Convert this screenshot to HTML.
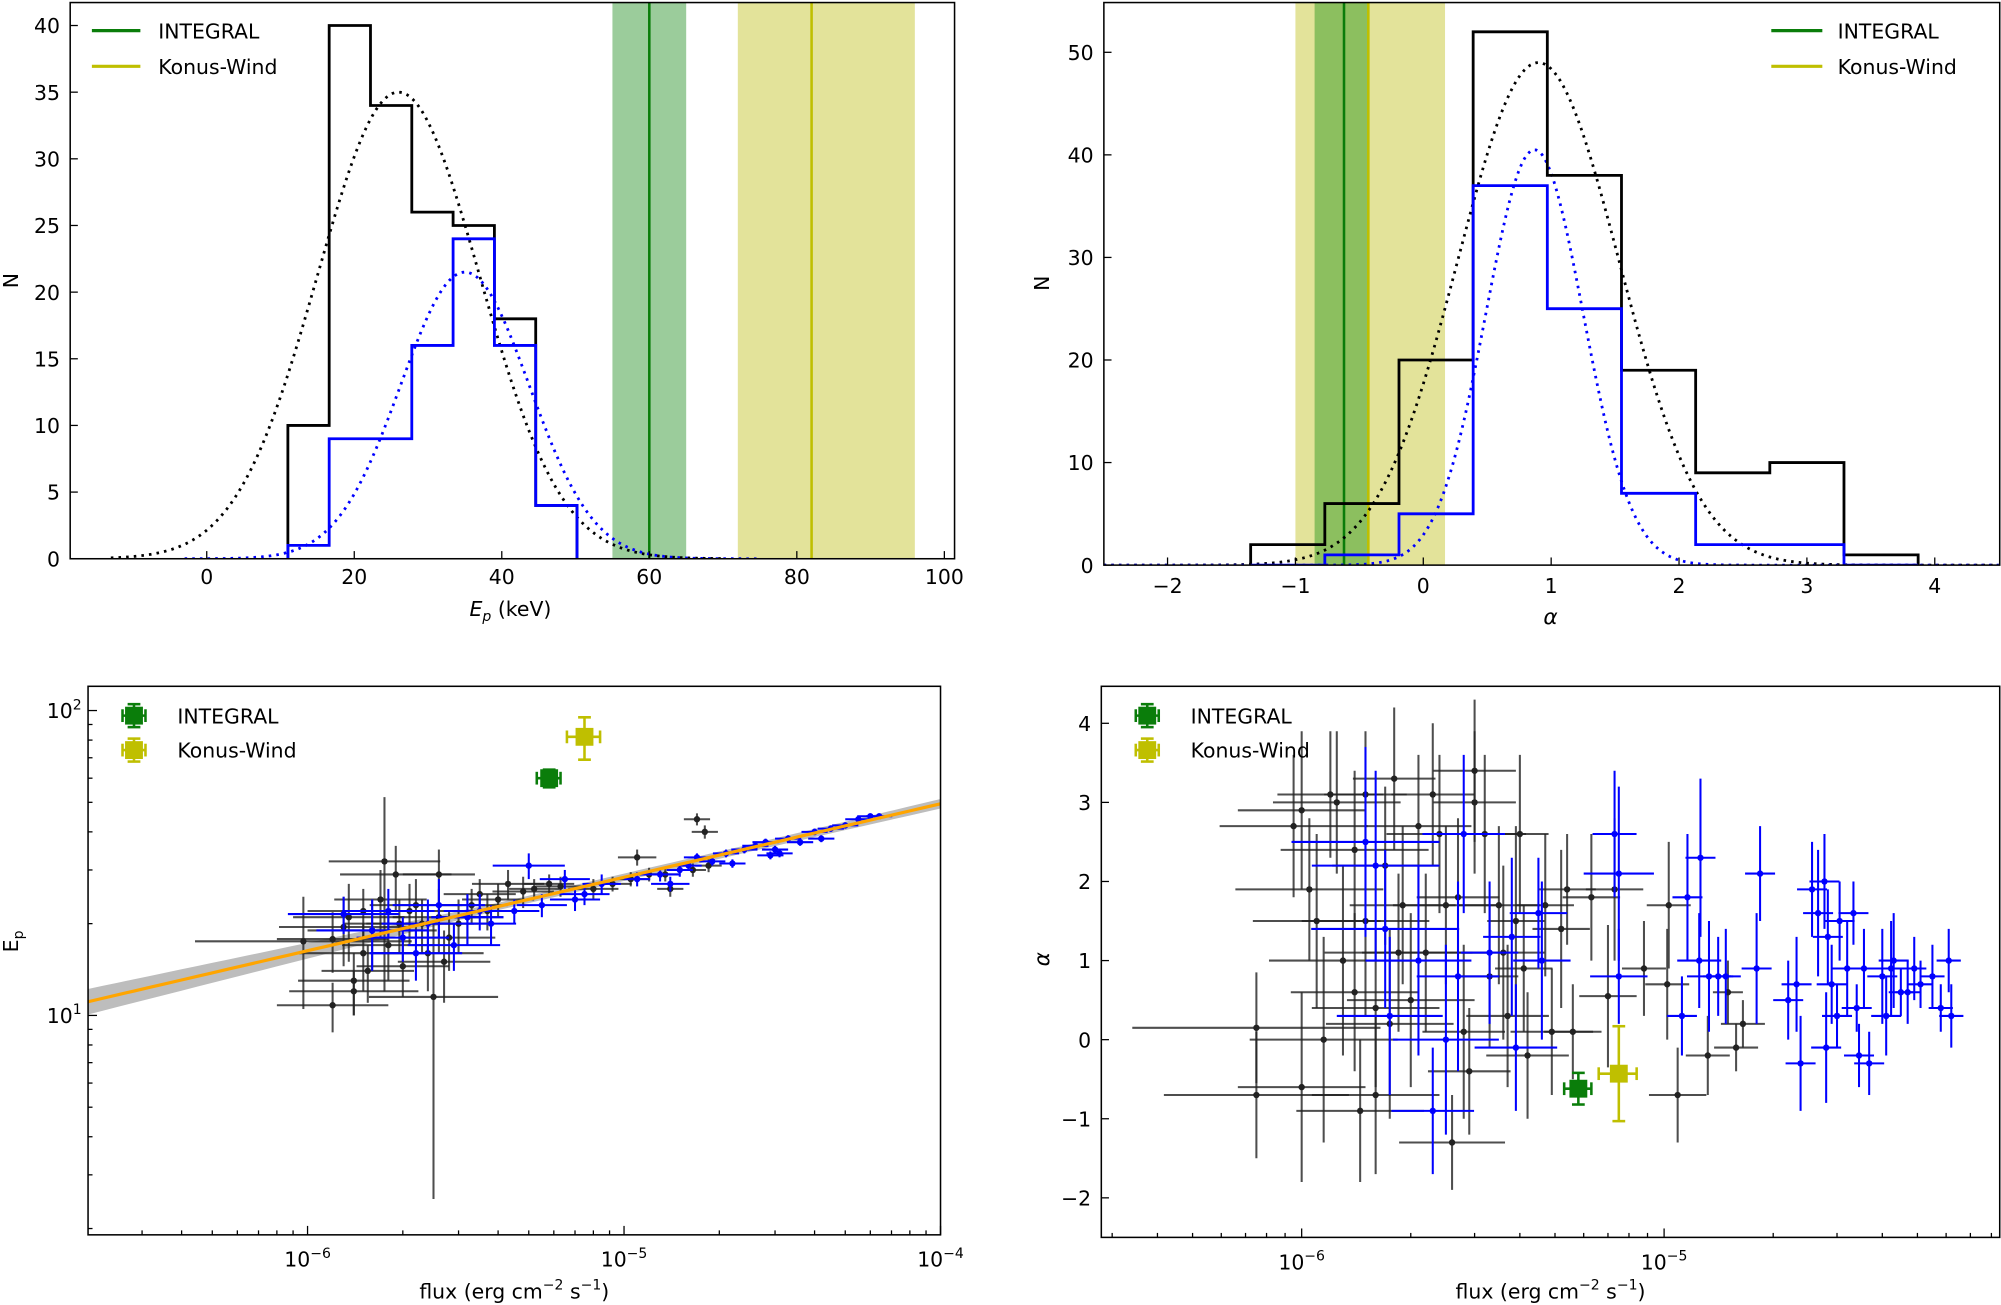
<!DOCTYPE html>
<html><head><meta charset="utf-8"><style>
html,body{margin:0;padding:0;background:#fff}
svg{display:block}
text{font-family:"DejaVu Sans","Liberation Sans",sans-serif;fill:#000}
</style></head><body>
<svg id="fig" xmlns="http://www.w3.org/2000/svg" width="2001" height="1305" viewBox="0 0 1568 1023" preserveAspectRatio="none"></svg>
<script>
// ---------- DATA ----------
const epEdges=[11,16.6,22.2,27.8,33.4,39,44.6,50.2];
const epAll=[10,40,34,26,25,18,4];
const epSub=[1,9,9,16,24,16,4];
const epGaussAll=[26,35,11];   // mean, peak, sigma
const epGaussSub=[35,21.5,8.7];
const epIntegral=[60,55,65];
const epKonus=[82,72,96];
const epXTicks=[0,20,40,60,80,100];
const epYTicks=[0,5,10,15,20,25,30,35,40];

const alEdges=[-1.35,-0.77,-0.19,0.39,0.97,1.55,2.13,2.71,3.29,3.87];
const alAll=[2,6,20,52,38,19,9,10,1];
const alSub=[0,1,5,37,25,7,2,2,0];
const alGaussAll=[0.9,49,0.63];
const alGaussSub=[0.87,40.5,0.38];
const alIntegral=[-0.62,-0.85,-0.42];
const alKonus=[-0.43,-1.0,0.17];
const alXTicks=[-2,-1,0,1,2,3,4];
const alYTicks=[0,10,20,30,40,50];

// flux in 1e-6 units, Ep, flux error factor, Ep error
const blBlack=[[0.97,17.5,2.2,7],[1.2,17.8,1.5,4],[1.2,10.8,1.5,2],[1.3,19.5,1.6,5],[1.35,21,1.5,6],[1.4,13,1.5,3],[1.4,12,1.6,2],[1.5,22,1.5,4],[1.5,16,1.6,4],[1.55,14,1.4,3],[1.6,19,1.6,5],[1.75,32,1.5,20],[1.7,24,1.4,6],[1.8,17,1.4,4],[1.9,29,1.5,7],[1.95,20,1.5,4],[2.0,14.5,1.4,3],[2.1,22,1.4,5],[2.2,23,1.4,5],[2.3,20,1.5,4],[2.4,16,1.5,4],[2.5,11.5,1.6,9],[2.6,21,1.4,5],[2.6,29,1.3,6],[2.7,15,1.4,4],[2.8,18,1.4,4],[3.0,20,1.3,4],[3.2,21,1.3,4],[3.3,23,1.3,3],[3.5,25,1.3,3],[3.7,22,1.3,3],[4.0,24,1.3,3],[4.3,27,1.3,3],[4.8,25.5,1.25,3],[5.2,26,1.2,2],[5.8,27,1.2,2],[6.3,26.5,1.2,2],[8.0,26,1.2,2],[9.2,27,1.15,1.5],[10.5,28,1.15,1.5],[11.0,33,1.15,2],[12,29,1.1,1.5],[13.5,29,1.1,1.5],[14,26,1.1,1.5],[17,44,1.1,2],[18,40,1.1,2],[18.5,31,1.1,1.5],[16.5,30,1.1,1.5]];
const blBlue=[[1.3,21.5,1.5,3],[1.6,19,1.5,5],[1.8,22,1.4,4],[2.0,18,1.4,3],[2.2,16,1.4,3],[2.4,20,1.4,4],[2.6,23,1.4,5],[2.9,17,1.4,3],[3.2,21,1.3,4],[3.5,22,1.3,3],[3.8,20,1.2,3],[4.5,22,1.2,2],[5.0,31,1.3,3],[5.5,23,1.2,2],[6.5,28,1.2,2],[7.0,24,1.2,2],[7.5,25,1.2,2],[8.5,27,1.15,2],[11,28,1.1,1.5],[13,29,1.15,1.5],[14,27,1.15,1.5],[15,30,1.1,1.5],[16,31,1.1,1],[17,33,1.1,1],[19,32,1.1,1],[21,34,1.1,1],[22,31.5,1.1,1],[24,35,1.1,1],[26,36,1.1,1],[28,37,1.1,1],[29,33.5,1.1,1],[30,35,1.1,1],[31,34,1.1,1],[33,38,1.1,1],[36,37,1.1,1],[40,40,1.1,1],[42,38,1.1,1],[45,41,1.1,1],[50,42,1.1,1],[55,44,1.1,1],[60,45,1.1,1],[64,45,1.1,1]];
const blIntegral=[5.8,60,0.5,4];
const blKonus=[7.5,82,0.9,13];
const fitParams=[16.3,0.241]; // Ep at 1e-6, slope per decade

const brBlack=[[0.95,2.7,1.6,0.9],[1.0,2.9,1.5,1.0],[1.0,-0.6,1.5,1.2],[1.05,1.9,1.6,0.9],[1.1,1.5,1.5,1.1],[1.15,0.0,1.6,1.3],[1.2,3.1,1.4,0.8],[1.25,3.0,1.5,0.9],[1.3,1.0,1.6,1.2],[1.4,0.6,1.5,1.0],[1.4,2.4,1.6,1.0],[1.45,-0.9,1.5,0.9],[1.5,3.1,1.3,0.8],[1.5,1.5,1.5,1.2],[1.6,0.4,1.5,1.0],[1.6,-0.7,1.5,1.0],[1.7,2.2,1.4,1.0],[1.75,0.2,1.5,1.2],[1.8,3.3,1.3,0.9],[1.85,1.1,1.6,1.0],[1.9,1.7,1.4,1.0],[2.0,0.5,1.5,1.1],[2.1,2.7,1.4,0.9],[2.2,1.1,1.5,1.0],[2.3,3.1,1.3,0.9],[2.4,2.6,1.4,1.0],[2.5,1.7,1.4,1.0],[2.6,-1.3,1.4,0.6],[2.7,1.8,1.3,1.0],[2.8,0.1,1.3,1.1],[2.9,-0.4,1.3,0.8],[3.0,3.4,1.3,0.9],[3.0,3.0,1.3,0.9],[3.2,2.6,1.3,1.0],[3.3,0.8,1.2,0.9],[3.5,1.7,1.3,1.0],[3.6,1.1,1.3,1.1],[3.7,0.3,1.3,0.9],[3.9,1.5,1.2,1.2],[4.0,2.6,1.2,1.0],[4.1,0.9,1.2,0.8],[4.2,-0.2,1.3,0.8],[4.7,1.7,1.2,0.9],[4.9,0.1,1.3,0.8],[5.2,1.4,1.2,1.0],[5.4,1.9,1.2,0.7],[5.6,0.1,1.2,0.6],[6.3,1.8,1.2,0.8],[7.0,0.55,1.2,0.9],[7.3,1.9,1.2,0.9],[8.8,0.9,1.15,0.6],[10.2,0.7,1.15,0.7],[10.3,1.7,1.15,0.8],[10.9,-0.7,1.2,0.6],[13.2,-0.2,1.15,0.5],[15.0,0.6,1.1,0.4],[16.5,0.2,1.15,0.3],[15.8,-0.1,1.15,0.3],[0.75,0.15,2.2,0.7],[0.75,-0.7,1.8,0.8]];
const brBlue=[[1.5,2.5,1.6,1.2],[1.6,2.2,1.5,1.2],[1.7,1.4,1.6,1.0],[1.75,0.3,1.4,1.0],[2.1,1.0,1.4,1.2],[2.3,-0.9,1.3,0.8],[2.5,0.0,1.4,1.2],[2.7,0.8,1.3,1.2],[2.8,2.6,1.3,1.0],[3.3,1.1,1.2,0.9],[3.8,1.3,1.2,1.0],[3.9,-0.1,1.3,0.8],[4.5,1.6,1.2,0.7],[4.6,1.0,1.2,1.0],[7.5,2.1,1.25,1.1],[7.3,2.6,1.15,0.8],[7.5,0.8,1.2,0.6],[11.2,0.3,1.1,0.5],[11.6,1.8,1.1,0.8],[12.5,1.0,1.15,0.6],[12.6,2.3,1.1,1.0],[13.3,0.8,1.15,0.7],[14.1,0.8,1.1,0.5],[14.8,0.8,1.1,0.6],[18.0,0.9,1.1,0.7],[18.4,2.1,1.1,0.6],[22.0,0.5,1.1,0.5],[23.2,0.7,1.1,0.6],[23.8,-0.3,1.1,0.6],[25.6,1.9,1.1,0.6],[26.6,1.6,1.1,0.8],[27.7,2.0,1.1,0.6],[28.0,-0.1,1.1,0.7],[28.3,1.3,1.1,0.6],[29.0,0.7,1.1,0.5],[30.0,0.3,1.1,0.4],[30.5,1.5,1.1,0.5],[32.0,0.9,1.1,0.6],[33.3,1.6,1.1,0.4],[34.0,0.4,1.1,0.3],[34.5,-0.2,1.1,0.4],[35.6,0.9,1.1,0.5],[36.8,-0.3,1.1,0.4],[40.0,0.8,1.1,0.6],[41.0,0.3,1.1,0.5],[42.3,0.9,1.1,0.6],[43.0,1.0,1.1,0.6],[45.0,0.6,1.08,0.3],[47.0,0.6,1.08,0.4],[49.0,0.9,1.08,0.4],[51.0,0.7,1.08,0.3],[55.0,0.8,1.08,0.4],[58.0,0.4,1.08,0.3],[61.0,1.0,1.08,0.4],[62.0,0.3,1.08,0.4]];
const brIntegral=[5.8,-0.62,0.5,0.2];
const brKonus=[7.5,-0.43,0.9,0.6];
const brYTicks=[-2,-1,0,1,2,3,4];

// ---------- HELPERS ----------
const svg=document.getElementById('fig');
const NS='http://www.w3.org/2000/svg';
function mk(tag,attrs,parent){const e=document.createElementNS(NS,tag);for(const k in attrs)e.setAttribute(k,attrs[k]);(parent||svg).appendChild(e);return e;}
function txt(x,y,s,size,anchor,parent,name){const t=mk('text',{x:x,y:y,'font-size':size,'text-anchor':anchor||'middle'},parent);t.innerHTML=s;


return t;}
function axesGroup(name,X0,X1,Y0,Y1){const g=mk('g',{});


const cp=mk('clipPath',{id:'cp-'+name},g);mk('rect',{x:X0,y:Y0,width:X1-X0,height:Y1-Y0},cp);
const inner=mk('g',{'clip-path':'url(#cp-'+name+')'},g);


return [g,inner];}
function frame(g,X0,X1,Y0,Y1,name){const r=mk('rect',{x:X0,y:Y0,width:X1-X0,height:Y1-Y0,fill:'none',stroke:'#000','stroke-width':1.2},g);

}
function stepPath(edges,vals,sx,sy){let d='M'+sx(edges[0])+','+sy(0);for(let i=0;i<vals.length;i++){d+=' L'+sx(edges[i])+','+sy(vals[i])+' L'+sx(edges[i+1])+','+sy(vals[i]);}d+=' L'+sx(edges[edges.length-1])+','+sy(0);return d;}
function gaussPath(p,x0,x1,sx,sy){let d='';for(let i=0;i<=300;i++){const x=x0+(x1-x0)*i/300;const v=p[1]*Math.exp(-((x-p[0])**2)/(2*p[2]*p[2]));d+=(i?' L':'M')+sx(x).toFixed(2)+','+sy(v).toFixed(2);}return d;}

// ---------- PANEL 1: Ep histogram ----------
(function(){
const X0=55,X1=748,Y0=2,Y1=438;
const sx=v=>162+v*5.78, sy=v=>438-v*10.45;
const [g,inn]=axesGroup('ep-histogram',X0,X1,Y0,Y1);
let r=mk('rect',{x:sx(epIntegral[1]),y:Y0,width:sx(epIntegral[2])-sx(epIntegral[1]),height:Y1-Y0,fill:'#9bcc9b'},inn);

r=mk('rect',{x:sx(epKonus[1]),y:Y0,width:sx(epKonus[2])-sx(epKonus[1]),height:Y1-Y0,fill:'#e3e39a'},inn);

let l=mk('line',{x1:sx(epIntegral[0]),x2:sx(epIntegral[0]),y1:Y0,y2:Y1,stroke:'#0a7d0a','stroke-width':2},inn);

l=mk('line',{x1:sx(epKonus[0]),x2:sx(epKonus[0]),y1:Y0,y2:Y1,stroke:'#bfbf00','stroke-width':2},inn);

let p=mk('path',{d:gaussPath(epGaussAll,-13,70,sx,sy),fill:'none',stroke:'#000','stroke-width':2.2,'stroke-dasharray':'2 4'},inn);

p=mk('path',{d:gaussPath(epGaussSub,-3,75,sx,sy),fill:'none',stroke:'#0000ff','stroke-width':2.2,'stroke-dasharray':'2 4'},inn);

p=mk('path',{d:stepPath(epEdges,epAll,sx,sy),fill:'none',stroke:'#000','stroke-width':2.2},inn);

p=mk('path',{d:stepPath(epEdges,epSub,sx,sy),fill:'none',stroke:'#0000ff','stroke-width':2.2},inn);

frame(g,X0,X1,Y0,Y1,'ep-histogram');
epXTicks.forEach(v=>{mk('line',{x1:sx(v),x2:sx(v),y1:Y1,y2:Y1-6,stroke:'#000'},g);txt(sx(v),Y1+20,v,16,'middle',g,'x-tick-label');});
epYTicks.forEach(v=>{mk('line',{x1:X0,x2:X0+6,y1:sy(v),y2:sy(v),stroke:'#000'},g);txt(X0-8,sy(v)+6,v,16,'end',g,'y-tick-label');});
txt(400,483,'<tspan font-style="italic">E</tspan><tspan font-style="italic" font-size="11" dy="4">p</tspan><tspan dy="-4"> (keV)</tspan>',16,'middle',g,'x-axis-title');
const yt=txt(0,0,'N',16,'middle',g,'y-axis-title');yt.setAttribute('transform','translate(14,220) rotate(-90)');
mk('line',{x1:72,x2:110,y1:24,y2:24,stroke:'#0a7d0a','stroke-width':2.5},g);txt(124,30,'INTEGRAL',16,'start',g,'legend-integral');
mk('line',{x1:72,x2:110,y1:52,y2:52,stroke:'#bfbf00','stroke-width':2.5},g);txt(124,58,'Konus-Wind',16,'start',g,'legend-konus');
})();

// ---------- PANEL 2: alpha histogram ----------
(function(){
const X0=865,X1=1567,Y0=2,Y1=443;
const sx=v=>1115.3+v*100.2, sy=v=>443-v*8.04;
const [g,inn]=axesGroup('alpha-histogram',X0,X1,Y0,Y1);
let r=mk('rect',{x:sx(alKonus[1]),y:Y0,width:sx(alKonus[2])-sx(alKonus[1]),height:Y1-Y0,fill:'#e3e39a'},inn);

r=mk('rect',{x:sx(alIntegral[1]),y:Y0,width:sx(alIntegral[2])-sx(alIntegral[1]),height:Y1-Y0,fill:'#8cbf5f'},inn);

let l=mk('line',{x1:sx(alIntegral[0]),x2:sx(alIntegral[0]),y1:Y0,y2:Y1,stroke:'#0a7d0a','stroke-width':2},inn);

l=mk('line',{x1:sx(alKonus[0]),x2:sx(alKonus[0]),y1:Y0,y2:Y1,stroke:'#bfbf00','stroke-width':2},inn);

let p=mk('path',{d:gaussPath(alGaussAll,-2.5,4.5,sx,sy),fill:'none',stroke:'#000','stroke-width':2.2,'stroke-dasharray':'2 4'},inn);

p=mk('path',{d:gaussPath(alGaussSub,-2.5,4.5,sx,sy),fill:'none',stroke:'#0000ff','stroke-width':2.2,'stroke-dasharray':'2 4'},inn);

p=mk('path',{d:stepPath(alEdges,alAll,sx,sy),fill:'none',stroke:'#000','stroke-width':2.2},inn);

p=mk('path',{d:stepPath(alEdges,alSub,sx,sy),fill:'none',stroke:'#0000ff','stroke-width':2.2},inn);

frame(g,X0,X1,Y0,Y1,'alpha-histogram');
alXTicks.forEach(v=>{mk('line',{x1:sx(v),x2:sx(v),y1:Y1,y2:Y1-6,stroke:'#000'},g);txt(sx(v),Y1+22,(v<0?'\u2212'+(-v):v),16,'middle',g,'x-tick-label');});
alYTicks.forEach(v=>{mk('line',{x1:X0,x2:X0+6,y1:sy(v),y2:sy(v),stroke:'#000'},g);txt(X0-8,sy(v)+6,v,16,'end',g,'y-tick-label');});
txt(1215,489,'α',17,'middle',g,'x-axis-title').setAttribute('font-style','italic');
const yt=txt(0,0,'N',16,'middle',g,'y-axis-title');yt.setAttribute('transform','translate(822,222) rotate(-90)');
mk('line',{x1:1388,x2:1428,y1:24,y2:24,stroke:'#0a7d0a','stroke-width':2.5},g);txt(1440,30,'INTEGRAL',16,'start',g,'legend-integral');
mk('line',{x1:1388,x2:1428,y1:52,y2:52,stroke:'#bfbf00','stroke-width':2.5},g);txt(1440,58,'Konus-Wind',16,'start',g,'legend-konus');
})();

function errPoint(g,cx,cy,xl,xr,yt,yb,color,w,name,r){
const gg=mk('g',{},g);


mk('line',{x1:xl,x2:xr,y1:cy,y2:cy,stroke:color,'stroke-width':w,'stroke-opacity':color==='#222'?0.8:1},gg);
mk('line',{x1:cx,x2:cx,y1:yt,y2:yb,stroke:color,'stroke-width':w,'stroke-opacity':color==='#222'?0.8:1},gg);
mk('circle',{cx:cx,cy:cy,r:r||2.5,fill:color},gg);}
function bigPoint(g,cx,cy,xl,xr,yt,yb,color,name){
const gg=mk('g',{},g);


mk('line',{x1:xl,x2:xr,y1:cy,y2:cy,stroke:color,'stroke-width':2},gg);
mk('line',{x1:cx,x2:cx,y1:yt,y2:yb,stroke:color,'stroke-width':2},gg);
mk('line',{x1:xl,x2:xl,y1:cy-5,y2:cy+5,stroke:color,'stroke-width':2},gg);
mk('line',{x1:xr,x2:xr,y1:cy-5,y2:cy+5,stroke:color,'stroke-width':2},gg);
mk('line',{x1:cx-5,x2:cx+5,y1:yt,y2:yt,stroke:color,'stroke-width':2},gg);
mk('line',{x1:cx-5,x2:cx+5,y1:yb,y2:yb,stroke:color,'stroke-width':2},gg);
mk('rect',{x:cx-7,y:cy-7,width:14,height:14,fill:color},gg);}
function logMinor(g,sx,X0,X1,Y1,lo,hi){for(let d=lo;d<hi;d++)for(let k=2;k<=9;k++){const x=sx(k*Math.pow(10,d));if(x>X0&&x<X1)mk('line',{x1:x,x2:x,y1:Y1,y2:Y1-3.5,stroke:'#000'},g);}}

// ---------- PANEL 3: Ep vs flux ----------
(function(){
const X0=69,X1=737,Y0=538,Y1=968;
const sx=f=>241+(Math.log10(f)+6)*248; // f in erg units
const sy=e=>796-(Math.log10(e)-1)*239;
const [g,inn]=axesGroup('ep-flux-scatter',X0,X1,Y0,Y1);
// band
let up='',dn='';const pts=[];
for(let i=0;i<=60;i++){const lf=-6.7+3*i/60;pts.push(lf);}
const fe=lf=>fitParams[0]*Math.pow(10,fitParams[1]*(lf+6));
const bw=lf=>0.012+0.03*Math.max(0,-(lf+5.4))/1.3+0.006*Math.max(0,lf+4.6);
pts.forEach((lf,i)=>{up+=(i?' L':'M')+sx(Math.pow(10,lf))+','+sy(fe(lf)*Math.pow(10,bw(lf)));});
pts.slice().reverse().forEach(lf=>{dn+=' L'+sx(Math.pow(10,lf))+','+sy(fe(lf)/Math.pow(10,bw(lf)));});
let p=mk('path',{d:up+dn+' Z',fill:'#bdbdbd'},inn);

blBlack.forEach(d=>{const f=d[0]*1e-6;errPoint(inn,sx(f),sy(d[1]),sx(f/d[2]),sx(f*d[2]),sy(d[1]+d[3]),sy(Math.max(d[1]-d[3],0.5)),'#222',1.6,'point-all');});
blBlue.forEach(d=>{const f=d[0]*1e-6;errPoint(inn,sx(f),sy(d[1]),sx(f/d[2]),sx(f*d[2]),sy(d[1]+d[3]),sy(d[1]-d[3]),'#0000ff',1.6,'point-subset');});
let fl='';pts.forEach((lf,i)=>{fl+=(i?' L':'M')+sx(Math.pow(10,lf))+','+sy(fe(lf));});
p=mk('path',{d:fl,fill:'none',stroke:'#ffa500','stroke-width':2.5},inn);

let d=blIntegral;bigPoint(inn,sx(d[0]*1e-6),sy(d[1]),sx((d[0]-d[2])*1e-6),sx((d[0]+d[2])*1e-6),sy(d[1]+d[3]),sy(d[1]-d[3]),'#0a7d0a','integral-point');
d=blKonus;bigPoint(inn,sx(d[0]*1e-6),sy(d[1]),sx((d[0]-d[2])*1e-6),sx((d[0]+d[2])*1e-6),sy(d[1]+d[3]),sy(d[1]-d[3]),'#bfbf00','konus-point');
frame(g,X0,X1,Y0,Y1,'ep-flux-scatter');
[-6,-5,-4].forEach(e=>{const x=sx(Math.pow(10,e));mk('line',{x1:x,x2:x,y1:Y1,y2:Y1-7,stroke:'#000'},g);txt(x,Y1+25,'10<tspan font-size="11" dy="-7">\u2212'+(-e)+'</tspan>',16,'middle',g,'x-tick-label');});
logMinor(g,sx,X0,X1,Y1,-7,-4);
[10,100].forEach((v,i)=>{const y=sy(v);mk('line',{x1:X0,x2:X0+7,y1:y,y2:y,stroke:'#000'},g);txt(X0-5,y+6,'10<tspan font-size="11" dy="-7">'+(i+1)+'</tspan>',16,'end',g,'y-tick-label');});
[2,3,4,5,6,7,8,9,20,30,40,50,60,70,80,90].forEach(v=>{const y=sy(v);if(y>Y0&&y<Y1)mk('line',{x1:X0,x2:X0+3.5,y1:y,y2:y,stroke:'#000'},g);});
txt(403,1018,'flux (erg cm<tspan font-size="11" dy="-7">\u22122</tspan><tspan dy="7"> s</tspan><tspan font-size="11" dy="-7">\u22121</tspan><tspan dy="7">)</tspan>',16,'middle',g,'x-axis-title');
const yt=txt(0,0,'E<tspan font-size="11" dy="4">p</tspan>',16,'middle',g,'y-axis-title');yt.setAttribute('transform','translate(14,738) rotate(-90)');
bigPoint(g,105,561,96,114,552,570,'#0a7d0a','legend-integral-marker');txt(139,567,'INTEGRAL',16,'start',g,'legend-integral');
bigPoint(g,105,588,96,114,579,597,'#bfbf00','legend-konus-marker');txt(139,594,'Konus-Wind',16,'start',g,'legend-konus');
})();

// ---------- PANEL 4: alpha vs flux ----------
(function(){
const X0=863,X1=1567,Y0=538,Y1=970;
const sx=f=>1020+(Math.log10(f)+6)*284;
const sy=a=>815-a*62;
const [g,inn]=axesGroup('alpha-flux-scatter',X0,X1,Y0,Y1);
brBlack.forEach(d=>{const f=d[0]*1e-6;errPoint(inn,sx(f),sy(d[1]),sx(f/d[2]),sx(f*d[2]),sy(d[1]+d[3]),sy(d[1]-d[3]),'#222',1.6,'point-all');});
brBlue.forEach(d=>{const f=d[0]*1e-6;errPoint(inn,sx(f),sy(d[1]),sx(f/d[2]),sx(f*d[2]),sy(d[1]+d[3]),sy(d[1]-d[3]),'#0000ff',1.6,'point-subset');});
let d=brIntegral;bigPoint(inn,sx(d[0]*1e-6),sy(d[1]),sx((d[0]-d[2])*1e-6),sx((d[0]+d[2])*1e-6),sy(d[1]+d[3]),sy(d[1]-d[3]),'#0a7d0a','integral-point');
d=brKonus;bigPoint(inn,sx(d[0]*1e-6),sy(d[1]),sx((d[0]-d[2])*1e-6),sx((d[0]+d[2])*1e-6),sy(d[1]+d[3]),sy(d[1]-d[3]),'#bfbf00','konus-point');
frame(g,X0,X1,Y0,Y1,'alpha-flux-scatter');
[-6,-5].forEach(e=>{const x=sx(Math.pow(10,e));mk('line',{x1:x,x2:x,y1:Y1,y2:Y1-7,stroke:'#000'},g);txt(x,Y1+25,'10<tspan font-size="11" dy="-7">\u2212'+(-e)+'</tspan>',16,'middle',g,'x-tick-label');});
logMinor(g,sx,X0,X1,Y1,-7,-4);
brYTicks.forEach(v=>{mk('line',{x1:X0,x2:X0+6,y1:sy(v),y2:sy(v),stroke:'#000'},g);txt(X0-8,sy(v)+6,(v<0?'\u2212'+(-v):v),16,'end',g,'y-tick-label');});
txt(1215,1018,'flux (erg cm<tspan font-size="11" dy="-7">\u22122</tspan><tspan dy="7"> s</tspan><tspan font-size="11" dy="-7">\u22121</tspan><tspan dy="7">)</tspan>',16,'middle',g,'x-axis-title');
const yt=txt(0,0,'α',17,'middle',g,'y-axis-title');yt.setAttribute('transform','translate(822,752) rotate(-90)');yt.setAttribute('font-style','italic');
bigPoint(g,899,561,890,908,552,570,'#0a7d0a','legend-integral-marker');txt(933,567,'INTEGRAL',16,'start',g,'legend-integral');
bigPoint(g,899,588,890,908,579,597,'#bfbf00','legend-konus-marker');txt(933,594,'Konus-Wind',16,'start',g,'legend-konus');
})();
</script>
</body></html>
